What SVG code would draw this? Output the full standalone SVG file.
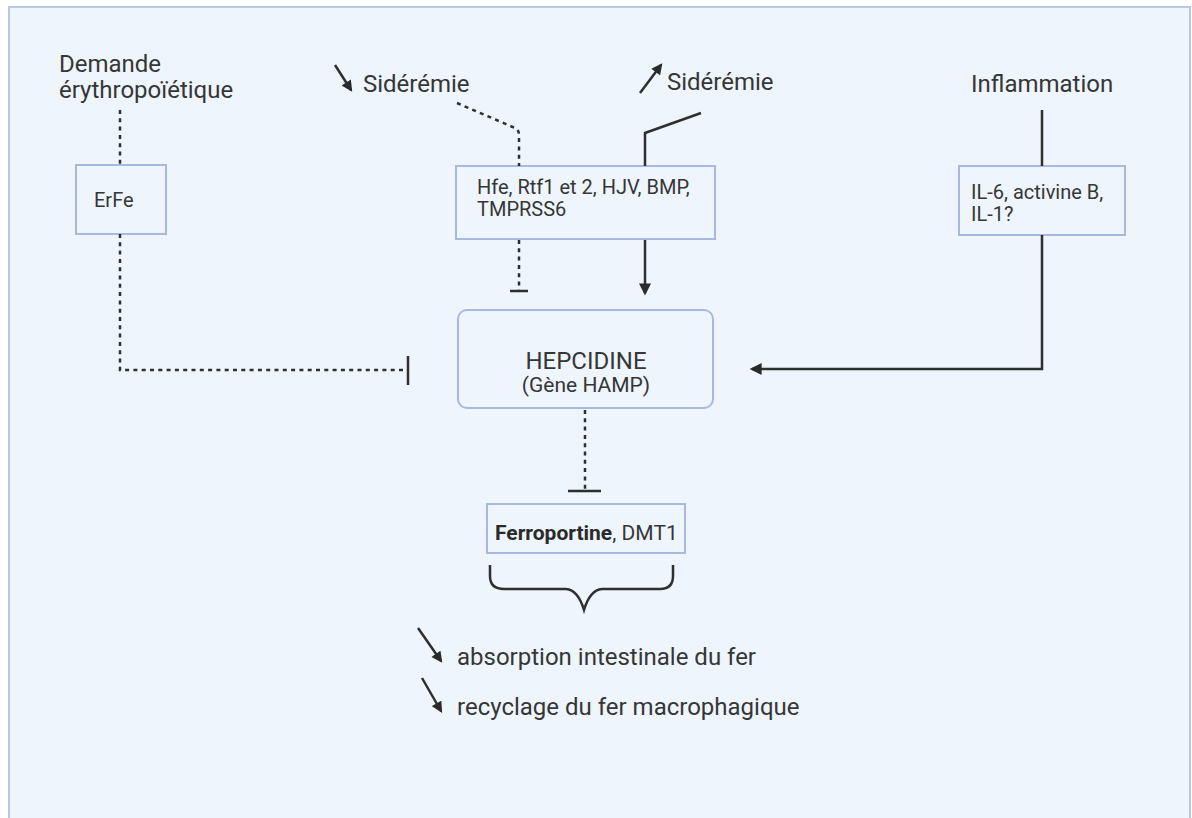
<svg xmlns="http://www.w3.org/2000/svg" width="1192" height="818" viewBox="0 0 1192 818">
<defs>
<style>
.t{font-family:Roboto,"Liberation Sans",sans-serif;fill:#363636}
.box{fill:none;stroke:#a7b9e0;stroke-width:2}
.ln{fill:none;stroke:#2f2f2f;stroke-width:2.5}
.dot{fill:none;stroke:#2f2f2f;stroke-width:2.5;stroke-dasharray:4 4.3}
</style>
<marker id="ah" viewBox="0 0 10 10" refX="8" refY="5" markerWidth="13" markerHeight="12" markerUnits="userSpaceOnUse" orient="auto">
<path d="M0 0L10 5L0 10z" fill="#2a2a2a"/>
</marker>
<marker id="sah" viewBox="0 0 10 10" refX="8" refY="5" markerWidth="12" markerHeight="11" markerUnits="userSpaceOnUse" orient="auto">
<path d="M0 0L10 5L0 10z" fill="#2a2a2a"/>
</marker>
</defs>
<rect x="0" y="0" width="1192" height="818" fill="#ffffff"/>
<rect x="9" y="7" width="1181" height="830" fill="#eef5fc" stroke="#b7c7e6" stroke-width="2"/>

<g id="demande">
<text class="t" x="59" y="72" font-size="24">Demande</text>
<text class="t" x="59" y="98" font-size="24">érythropoïétique</text>
</g>
<g id="sideremie-basse">
<line class="ln" x1="335" y1="65" x2="351" y2="90" marker-end="url(#sah)"/>
<text class="t" x="363" y="92" font-size="24">Sidérémie</text>
</g>
<g id="sideremie-haute">
<line class="ln" x1="640" y1="93" x2="661" y2="65" marker-end="url(#sah)"/>
<text class="t" x="667" y="90" font-size="24">Sidérémie</text>
</g>
<g id="inflammation">
<text class="t" x="971" y="92" font-size="24">Inflammation</text>
</g>
<g id="erfe">
<rect class="box" x="76" y="165" width="90" height="69"/>
<text class="t" x="94" y="207" font-size="20">ErFe</text>
</g>
<g id="hfe">
<rect class="box" x="456" y="166" width="259" height="73"/>
<text class="t" x="477" y="194" font-size="20">Hfe, Rtf1 et 2, HJV, BMP,</text>
<text class="t" x="477" y="216" font-size="20">TMPRSS6</text>
</g>
<g id="il6">
<rect class="box" x="959" y="166" width="166" height="69"/>
<text class="t" x="971" y="199" font-size="20">IL-6, activine B,</text>
<text class="t" x="971" y="221" font-size="20">IL-1?</text>
</g>
<g id="hepcidine">
<rect class="box" x="458" y="310" width="255" height="98" rx="9"/>
<text class="t" x="586" y="369" font-size="24" text-anchor="middle">HEPCIDINE</text>
<text class="t" x="586" y="392" font-size="21" text-anchor="middle">(Gène HAMP)</text>
</g>
<g id="ferroportine">
<rect class="box" x="487" y="504" width="198" height="49"/>
<text class="t" x="495" y="540" font-size="21"><tspan font-weight="bold" fill="#2a2a2a">Ferroportine</tspan>, DMT1</text>
</g>
<g id="effets">
<line class="ln" x1="418" y1="628" x2="441" y2="661" marker-end="url(#sah)"/>
<text class="t" x="457" y="665" font-size="24">absorption intestinale du fer</text>
<line class="ln" x1="422" y1="678" x2="441" y2="711" marker-end="url(#sah)"/>
<text class="t" x="457" y="715" font-size="24">recyclage du fer macrophagique</text>
</g>
<g id="connectors">
<path class="dot" d="M120 110V165"/>
<path class="dot" d="M120 234V370H407"/>
<path class="ln" d="M408 356V385"/>
<path class="dot" d="M457 103L515 128Q519 130 519 135V166"/>
<path class="dot" d="M519 240V290"/>
<path class="ln" d="M510 291H528"/>
<path class="ln" d="M701 113L645 133V166"/>
<path class="ln" d="M645 240V293" marker-end="url(#ah)"/>
<path class="ln" d="M1042 110V166"/>
<path class="ln" d="M1042 235V369H752" marker-end="url(#ah)"/>
<path class="dot" d="M585 410V490" stroke-width="3.5" stroke-dasharray="5 5"/>
<path class="ln" d="M568 491H601" stroke-width="3.5"/>
<path class="ln" d="M490 565V576Q490 589 504 589H566Q578 590 584 610Q590 590 602 589H660Q673 589 673 576V565"/>
</g>
</svg>
